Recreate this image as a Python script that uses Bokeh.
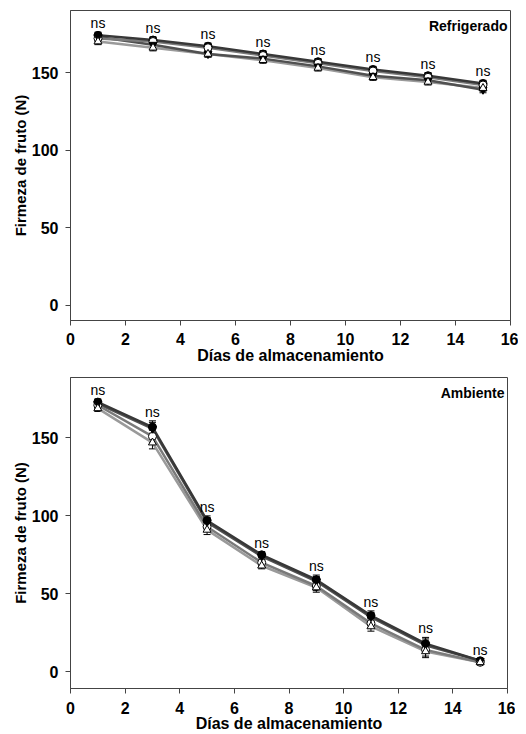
from bokeh.plotting import figure
from bokeh.models import ColumnDataSource, Whisker, TeeHead, Label, FixedTicker, Range1d
from bokeh.layouts import column
from bokeh.embed import file_html
from bokeh.resources import INLINE
from bokeh.core.properties import value

days = [1, 3, 5, 7, 9, 11, 13, 15]

# Refrigerado
ref_s1 = [174, 171, 167, 162, 157, 152, 148, 143]
ref_s2 = [172, 170, 166, 161, 156, 151, 147, 142]
ref_s3 = [173, 168, 162, 159, 154, 148, 145, 139]
ref_s4 = [170, 166, 162, 158, 153, 147, 144, 140]
ref_err = [2, 2, 2, 2, 2, 2, 2, 2]

# Ambiente
amb_s1 = [173, 157, 97, 75, 59, 36, 18, 7]
amb_s2 = [171, 151, 93, 70, 55, 31, 14, 6]
amb_s3 = [172, 156, 96, 74, 58, 35, 17, 7]
amb_s4 = [169, 147, 91, 68, 54, 29, 13, 6]
amb_err = [2, 4, 3, 2, 3, 3, 4, 1]

ns_labels = ["ns"] * 8

FONT = "Liberation Sans"
line_colors = ["#383838", "#7a7a7a", "#505050", "#9a9a9a"]
markers = [("circle", "black"), ("circle", "white"), ("inverted_triangle", "black"), ("triangle", "white")]


def make_fig(series, err, title, yr, frame_h, top_b, left_b, right_b, width, height,
             tick_standoff, label_standoff):
    p = figure(width=width, height=height, output_backend="svg", toolbar_location=None,
               x_range=Range1d(0, 16), y_range=Range1d(*yr),
               min_border_top=top_b, min_border_left=left_b, min_border_right=right_b,
               min_border_bottom=height - top_b - frame_h)
    p.grid.visible = False
    p.outline_line_color = "#444444"
    p.outline_line_width = 1
    for axes in (p.xaxis, p.yaxis):
        axes.axis_line_color = "#444444"
        axes.major_tick_line_color = "#444444"
        axes.major_tick_in = 0
        axes.major_tick_out = 5
        axes.minor_tick_line_color = None
        axes.major_label_text_font = FONT
        axes.major_label_text_font_style = "bold"
        axes.major_label_text_font_size = "16px"
        axes.major_label_text_color = "black"
        axes.axis_label_text_font = FONT
        axes.axis_label_text_font_style = "bold"
        axes.axis_label_text_color = "black"
    p.xaxis.ticker = FixedTicker(ticks=list(range(0, 17, 2)))
    p.yaxis.ticker = FixedTicker(ticks=[0, 50, 100, 150])
    p.xaxis.axis_label = "Días de almacenamiento"
    p.xaxis.axis_label_text_font_size = "16px"
    p.xaxis.axis_label_standoff = label_standoff
    p.xaxis.major_label_standoff = tick_standoff
    p.yaxis.axis_label = "Firmeza de fruto (N)"
    p.yaxis.axis_label_text_font_size = "15px"
    p.yaxis.axis_label_standoff = 0
    p.yaxis.major_label_standoff = 7

    for vals, col in zip(series[::-1], line_colors[::-1]):
        p.line(days, vals, line_color=col, line_width=2.5)
    for vals in series:
        src = ColumnDataSource(dict(x=days, lo=[v - e for v, e in zip(vals, err)],
                                    hi=[v + e for v, e in zip(vals, err)]))
        p.add_layout(Whisker(source=src, base="x", lower="lo", upper="hi",
                             line_color="black", line_width=1,
                             upper_head=TeeHead(size=7, line_color="black", line_width=1),
                             lower_head=TeeHead(size=7, line_color="black", line_width=1)))
    for vals, (m, fill) in zip(series, markers):
        p.scatter(days, vals, marker=m, size=8, fill_color=fill, line_color="black", line_width=1)

    tops = [max(v) + e for v, e in zip(zip(*series), err)]
    p.text(days, tops, text=ns_labels, text_font=value(FONT), text_font_size="14px",
           text_align="center", text_baseline="bottom", y_offset=-1, text_color="black")

    p.add_layout(Label(x=16, y=yr[1], text=title, x_offset=-3, y_offset=-7,
                       text_align="right", text_baseline="top", text_font=FONT,
                       text_font_style="bold", text_font_size="14px", text_color="black"))
    return p


p1 = make_fig([ref_s1, ref_s2, ref_s3, ref_s4], ref_err, "Refrigerado", (-9.7, 190),
              310, 10, 69, 7, 518, 368, 7, -1)
p2 = make_fig([amb_s1, amb_s2, amb_s3, amb_s4], amb_err, "Ambiente", (-10.8, 188.8),
              311, 9, 70, 8, 515, 366, 8, -2)

layout = column(p1, p2)
open("out.html", "w").write(file_html(layout, INLINE))
